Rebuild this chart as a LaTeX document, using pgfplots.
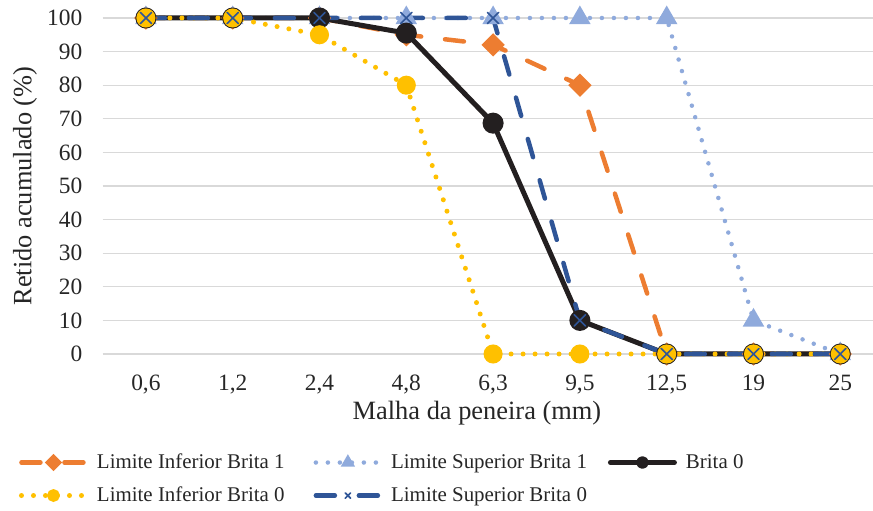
\documentclass[border=0pt]{standalone}
\usepackage{fontspec}
\setmainfont{Liberation Serif}
\usepackage{pgfplots}
\pgfplotsset{compat=1.18}
\definecolor{cOr}{HTML}{ED7D31}
\definecolor{cLb}{HTML}{8FAADC}
\definecolor{cBk}{HTML}{231F20}
\definecolor{cYe}{HTML}{FFC000}
\definecolor{cDb}{HTML}{2F5597}
\definecolor{cGrid}{HTML}{D9D9D9}
\begin{document}
\begin{tikzpicture}[x=1bp,y=1bp]
\useasboundingbox (0,0) rectangle (873,511);
\begin{axis}[
  at={(102.5bp,157bp)}, anchor=south west, scale only axis,
  width=770.5bp, height=336bp,
  xmin=-0.5, xmax=8.377, ymin=0, ymax=100,
  clip=false,
  axis line style={draw=none},
  major tick length=0pt, tick style={draw=none},
  xtick={0,1,2,3,4,5,6,7,8},
  xticklabels={{0,6},{1,2},{2,4},{4,8},{6,3},{9,5},{12,5},{19},{25}},
  ytick={0,10,...,100},
  ymajorgrids, grid style={color=cGrid, line width=1.3bp},
  /pgf/number format/assume math mode=true,
  ticklabel style={font=\fontsize{23.5}{28}\selectfont, text=black!85},
  xticklabel style={inner sep=0pt, anchor=north, yshift=-21bp},
  yticklabel style={inner sep=0pt, anchor=east, xshift=-20bp},
  label style={font=\fontsize{26.5}{31}\selectfont, text=black!85},
  xlabel={Malha da peneira (mm)},
  xlabel style={at={(axis description cs:0.486,-0.1756)}, anchor=center},
  ylabel={Retido acumulado (\%)},
  ylabel style={at={(axis description cs:-0.1006,0.5)}, anchor=center},
  legend image code/.code={\draw[mark repeat=2,mark phase=2,#1,mark size=3.8bp] plot coordinates {(0bp,0bp) (32bp,0bp) (64bp,0bp)};},
  legend columns=3,
  legend cell align=left,
  legend style={at={(axis description cs:-0.1084,-0.2947)}, anchor=north west,
    draw=none, fill=none, inner sep=0pt, outer sep=0pt,
    font=\fontsize{21}{25}\selectfont, text=black!85, row sep=14bp,
    nodes={inner sep=0pt, text height=15bp, text depth=4bp},
    /tikz/every odd column/.append style={column sep=9bp},
    /tikz/column 2/.append style={column sep=29bp},
    /tikz/column 4/.append style={column sep=21bp}},
]
\addplot[cOr, line width=4.5bp, line cap=round, dash pattern=on 19bp off 24bp,
  mark=square*, mark size=6bp, mark options={solid, rotate=45, fill=cOr, draw=cOr}]
  coordinates {(0,100)(1,100)(2,100)(3,95)(4,92)(5,80)(6,0)(7,0)(8,0)};
\addlegendentry{Limite Inferior Brita 1}
\addplot[cLb, line width=4.5bp, line cap=round, dash pattern=on 0bp off 12bp,
  mark=triangle*, mark size=8bp, mark options={solid, fill=cLb, draw=cLb}]
  coordinates {(0,100)(1,100)(2,100)(3,100)(4,100)(5,100)(6,100)(7,10)(8,0)};
\addlegendentry{Limite Superior Brita 1}
\addplot[cBk, line width=5bp, line cap=round, line join=round,
  mark=*, mark size=8bp, mark options={solid, fill=cBk, draw=cBk}]
  coordinates {(0,100)(1,100)(2,100)(3,95.5)(4,68.7)(5,10)(6,0)(7,0)(8,0)};
\addlegendentry{Brita 0}
\addplot[cYe, line width=5bp, line cap=round, dash pattern=on 0bp off 12bp,
  mark=*, mark size=7bp, mark options={solid, fill=cYe, draw=cYe}]
  coordinates {(0,100)(1,100)(2,95)(3,80)(4,0)(5,0)(6,0)(7,0)(8,0)};
\addlegendentry{Limite Inferior Brita 0}
\addplot[cDb, line width=4.5bp, line cap=round, dash pattern=on 19bp off 24bp,
  mark=x, mark size=8bp, mark options={solid, draw=cDb, line width=1.6bp}]
  coordinates {(0,100)(1,100)(2,100)(3,100)(4,100)(5,10)(6,0)(7,0)(8,0)};
\addlegendentry{Limite Superior Brita 0}
\end{axis}
\end{tikzpicture}
\end{document}
